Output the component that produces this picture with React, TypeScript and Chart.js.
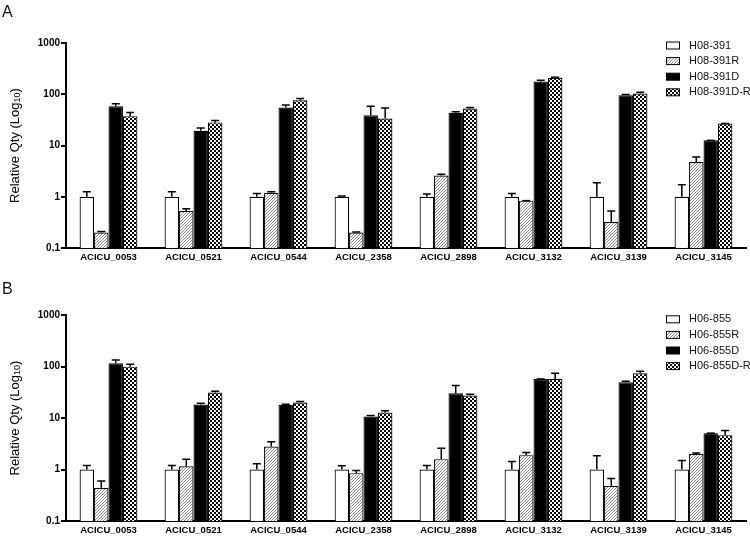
import React, { useEffect, useRef } from "react";
import { Chart, registerables } from "chart.js";
Chart.register(...registerables);

const FONT = "'Liberation Sans', Arial, Helvetica, sans-serif";

const categories = [
  "ACICU_0053", "ACICU_0521", "ACICU_0544", "ACICU_2358",
  "ACICU_2898", "ACICU_3132", "ACICU_3139", "ACICU_3145",
];
const yTickValues = [0.1, 1, 10, 100, 1000];

// Panel A
const labelsA = ["H08-391", "H08-391R", "H08-391D", "H08-391D-R"];
const a391 = [1, 1, 1, 1, 1, 1, 1, 1];
const a391Up = [1.25, 1.25, 1.16, 1.03, 1.13, 1.16, 1.87, 1.71];
const a391R = [0.2, 0.53, 1.2, 0.2, 2.6, 0.84, 0.32, 4.75];
const a391RUp = [0.21, 0.58, 1.25, 0.205, 2.75, 0.85, 0.53, 5.94];
const a391D = [58.6, 19.3, 55, 39, 43.4, 177, 96, 12.6];
const a391DUp = [65, 22, 62, 58, 45.6, 188, 99, 12.8];
const a391DR = [37.4, 28.2, 76, 33.7, 52.8, 209, 103.6, 26.9];
const a391DRUp = [44, 30.8, 83, 54, 55, 215, 110, 27.5];

// Panel B
const labelsB = ["H06-855", "H06-855R", "H06-855D", "H06-855D-R"];
const b855 = [1, 1, 1, 1, 1, 1, 1, 1];
const b855Up = [1.2, 1.2, 1.29, 1.18, 1.2, 1.43, 1.85, 1.5];
const b855R = [0.44, 1.15, 2.8, 0.85, 1.59, 1.9, 0.48, 1.99];
const b855RUp = [0.6, 1.59, 3.45, 0.96, 2.6, 2.14, 0.67, 2.1];
const b855D = [115, 18.2, 18, 10.7, 30.2, 57.3, 49.4, 5.08];
const b855DUp = [134, 19.4, 18.5, 11.2, 43, 57.5, 51.6, 5.15];
const b855DR = [99.4, 31.2, 19.95, 12.8, 27.3, 57, 73.8, 4.64];
const b855DRUp = [110, 33, 20.8, 13.9, 29, 73.8, 80.7, 5.72];

function makeFills() {
  const ctx = document.createElement("canvas").getContext("2d")!;
  const hatch = document.createElement("canvas");
  hatch.width = 3; hatch.height = 3;
  const h = hatch.getContext("2d")!;
  h.fillStyle = "#ffffff"; h.fillRect(0, 0, 3, 3);
  h.fillStyle = "#8a8a8a";
  h.fillRect(0, 2, 1, 1); h.fillRect(1, 1, 1, 1); h.fillRect(2, 0, 1, 1);
  const check = document.createElement("canvas");
  check.width = 4; check.height = 4;
  const c = check.getContext("2d")!;
  c.fillStyle = "#ffffff"; c.fillRect(0, 0, 4, 4);
  c.fillStyle = "#000000"; c.fillRect(0, 0, 2, 2); c.fillRect(2, 2, 2, 2);
  return [
    "#ffffff",
    ctx.createPattern(hatch, "repeat")!,
    "#000000",
    ctx.createPattern(check, "repeat")!,
  ];
}

type PanelProps = {
  letter: string;
  letterY: number;
  labels: string[];
  values: number[][];
  uppers: number[][];
  height: number;
  padTop: number;
  xHeight: number;
  legendY: number;
};

function Panel(p: PanelProps) {
  const ref = useRef<HTMLCanvasElement>(null);
  useEffect(() => {
    const fills = makeFills();
    const errorPlugin = {
      id: "errorBars",
      afterDatasetsDraw(chart: any) {
        const ctx = chart.ctx;
        const ys = chart.scales.y;
        ctx.save();
        ctx.strokeStyle = "#000";
        ctx.lineWidth = 1.5;
        chart.data.datasets.forEach((ds: any, di: number) => {
          const meta = chart.getDatasetMeta(di);
          meta.data.forEach((el: any, i: number) => {
            const top = ys.getPixelForValue(ds.errUpper[i]);
            if (el.y - top < 0.5) {
              ctx.beginPath();
              ctx.moveTo(el.x - 4, el.y);
              ctx.lineTo(el.x + 4, el.y);
              ctx.stroke();
              return;
            }
            ctx.beginPath();
            ctx.moveTo(el.x, el.y);
            ctx.lineTo(el.x, top);
            ctx.moveTo(el.x - 4, top);
            ctx.lineTo(el.x + 4, top);
            ctx.stroke();
          });
        });
        ctx.restore();
      },
    };
    const decorPlugin = {
      id: "decor",
      afterDraw(chart: any) {
        const ctx = chart.ctx;
        const ca = chart.chartArea;
        ctx.save();
        // panel letter
        ctx.fillStyle = "#111";
        ctx.font = `16px ${FONT}`;
        ctx.textAlign = "left";
        ctx.textBaseline = "alphabetic";
        ctx.fillText(p.letter, 2, p.letterY);
        // y title with subscript
        const main = "Relative Qty (Log";
        const sub = "10";
        const close = ")";
        ctx.font = `13px ${FONT}`;
        const wMain = ctx.measureText(main).width;
        const wClose = ctx.measureText(close).width;
        ctx.font = `9px ${FONT}`;
        const wSub = ctx.measureText(sub).width;
        const total = wMain + wSub + wClose;
        ctx.translate(15, (ca.top + ca.bottom) / 2);
        ctx.rotate(-Math.PI / 2);
        ctx.fillStyle = "#000";
        ctx.textBaseline = "middle";
        let x = -total / 2;
        ctx.font = `13px ${FONT}`;
        ctx.fillText(main, x, 0);
        x += wMain;
        ctx.font = `9px ${FONT}`;
        ctx.fillText(sub, x, 3);
        x += wSub;
        ctx.font = `13px ${FONT}`;
        ctx.fillText(close, x, 0);
        ctx.restore();
        // legend
        ctx.save();
        ctx.font = `11px ${FONT}`;
        ctx.textBaseline = "middle";
        ctx.textAlign = "left";
        chart.data.datasets.forEach((ds: any, i: number) => {
          const cy = p.legendY + i * 15.6;
          ctx.fillStyle = ds.backgroundColor;
          ctx.fillRect(666, cy - 3.5, 14, 7);
          ctx.strokeStyle = "#000";
          ctx.lineWidth = 1;
          ctx.strokeRect(666.5, cy - 3.5, 13, 7);
          ctx.fillStyle = "#111";
          ctx.fillText(ds.label, 689, cy);
        });
        ctx.restore();
      },
    };
    const chart = new Chart(ref.current!, {
      type: "bar",
      data: {
        labels: categories,
        datasets: p.values.map((d, i) => ({
          label: p.labels[i],
          data: d,
          errUpper: p.uppers[i],
          backgroundColor: fills[i] as any,
          borderColor: "#000",
          borderWidth: 1.2,
          categoryPercentage: 0.68,
          barPercentage: 1.0,
        })) as any,
      },
      options: {
        responsive: false,
        animation: false,
        devicePixelRatio: 1,
        layout: { padding: { top: p.padTop, right: 4, left: 0, bottom: 0 } },
        plugins: { legend: { display: false }, tooltip: { enabled: false } },
        scales: {
          x: {
            grid: { display: false, drawTicks: false },
            border: { display: true, color: "#000", width: 2 },
            ticks: {
              color: "#000",
              font: { family: FONT, size: 9.5, weight: "bold" },
              padding: 4,
              maxRotation: 0,
              autoSkip: false,
            },
            afterFit: (s: any) => { s.height = p.xHeight; },
          },
          y: {
            type: "logarithmic",
            min: 0.1,
            max: 1000,
            afterBuildTicks: (s: any) => {
              s.ticks = yTickValues.map((v) => ({ value: v }));
            },
            ticks: {
              color: "#000",
              font: { family: FONT, size: 10, weight: "bold" },
              padding: 1,
              callback: (v: any) => String(v),
            },
            grid: {
              drawOnChartArea: false,
              drawTicks: true,
              tickLength: 5,
              lineWidth: 2,
              color: "#000",
            },
            border: { display: true, color: "#000", width: 2 },
            afterFit: (s: any) => { s.width = 66; },
          },
        },
      } as any,
      plugins: [errorPlugin, decorPlugin],
    });
    return () => chart.destroy();
  }, []);
  return (
    <canvas
      ref={ref}
      width={750}
      height={p.height}
      style={{ display: "block", width: 750, height: p.height }}
    />
  );
}

export default function App() {
  return (
    <div style={{ position: "fixed", left: 0, top: 0, width: 750, height: 539, background: "#fff" }}>
      <Panel
        letter="A"
        letterY={17}
        labels={labelsA}
        values={[a391, a391R, a391D, a391DR]}
        uppers={[a391Up, a391RUp, a391DUp, a391DRUp]}
        height={270}
        padTop={43}
        xHeight={22}
        legendY={45.5}
      />
      <Panel
        letter="B"
        letterY={24}
        labels={labelsB}
        values={[b855, b855R, b855D, b855DR]}
        uppers={[b855Up, b855RUp, b855DUp, b855DRUp]}
        height={269}
        padTop={45}
        xHeight={18}
        legendY={49.3}
      />
    </div>
  );
}
